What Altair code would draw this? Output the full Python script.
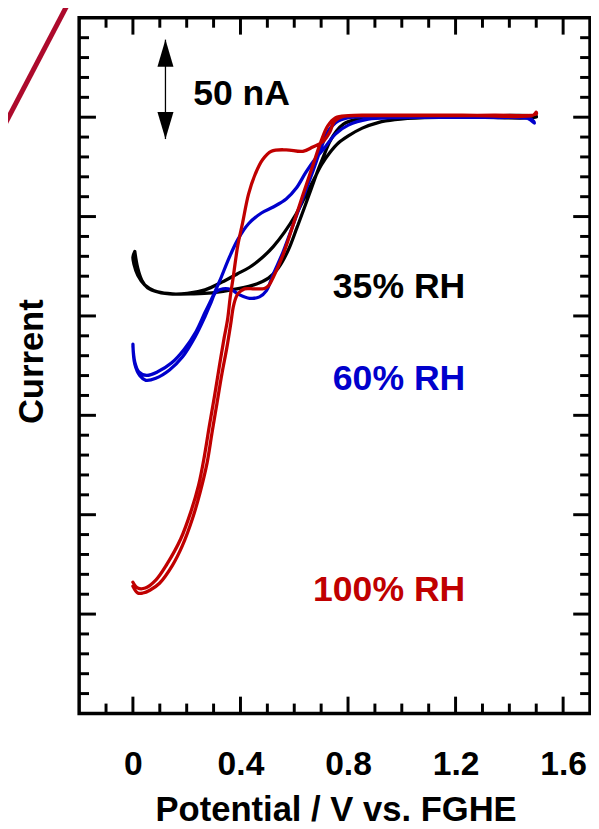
import altair as alt
import pandas as pd

# ---------------- data (Potential in V, Current in nA) ----------------
series_names = ["35% RH", "60% RH", "100% RH"]
series_colors = ["#000000", "#0000cc", "#c00000"]

black_v = [0.007, 0.018, 0.033, 0.055, 0.092, 0.147, 0.221, 0.294, 0.386, 0.46, 0.504, 0.54, 0.577,
           0.61, 0.64, 0.665, 0.688, 0.71, 0.732, 0.757, 0.783, 0.827, 0.901, 1.085, 1.268, 1.5,
           1.5, 1.268, 1.085, 0.974, 0.912, 0.853, 0.801, 0.765, 0.732, 0.702, 0.673, 0.643, 0.607,
           0.5625, 0.522, 0.478, 0.434, 0.386, 0.331, 0.268, 0.202, 0.136, 0.081, 0.044, 0.018,
           0.004, 0.0, 0.007]
black_i = [-67.6, -76.0, -82.0, -85.9, -87.9, -88.9, -88.9, -88.4, -86.4, -83.9, -81.0, -76.0, -67.1,
           -55.6, -44.7, -35.3, -26.8, -19.4, -12.4, -7.0, -3.5, -1.24, -0.25, 0.25, 0.5, 0.5,
           0.0, 0.0, -0.25, -1.24, -2.7, -5.5, -9.4, -12.9, -17.9, -23.8, -31.3, -39.2, -48.7,
           -58.1, -65.1, -71.0, -75.5, -79.0, -83.0, -86.9, -88.7, -88.9, -87.4, -84.4, -79.5,
           -74.0, -70.5, -67.6]

blue_v = [0.0, 0.007, 0.026, 0.048, 0.085, 0.136, 0.184, 0.232, 0.268, 0.29, 0.309, 0.335, 0.364,
          0.397, 0.434, 0.471, 0.496, 0.522, 0.559, 0.596, 0.632, 0.669, 0.699, 0.724, 0.754, 0.801,
          0.875, 1.268, 1.426, 1.471, 1.493,
          1.482, 1.342, 1.121, 0.963, 0.875, 0.801, 0.754, 0.71, 0.673, 0.643, 0.607, 0.57, 0.522,
          0.478, 0.43, 0.39, 0.357, 0.324, 0.298, 0.268, 0.235, 0.191, 0.143, 0.092, 0.051, 0.022,
          0.007, 0.0]
blue_i = [-114.2, -124.2, -130.1, -132.4, -131.4, -127.2, -120.7, -110.3, -100.3, -93.4, -87.9, -86.4,
          -86.7, -89.4, -91.1, -90.4, -87.4, -79.0, -67.6, -54.1, -40.7, -27.3, -15.9, -7.5, -2.7,
          -0.25, 0.25, 0.25, 0.0, -0.75, -3.0,
          -1.0, -0.15, -0.15, -0.25, -1.0, -4.0, -8.4, -15.9, -21.9, -27.8, -35.8, -41.2, -45.2,
          -48.2, -53.6, -61.6, -71.0, -82.0, -89.9, -98.3, -107.8, -116.7, -123.7, -128.1, -129.9,
          -128.1, -123.2, -115.2]

red_v = [0.0, 0.018, 0.037, 0.063, 0.099, 0.147, 0.184, 0.221, 0.25, 0.276, 0.294, 0.3125, 0.331,
         0.349, 0.364, 0.375, 0.39, 0.415, 0.452, 0.489, 0.504, 0.522, 0.559, 0.596, 0.632, 0.669,
         0.699, 0.724, 0.754, 0.801, 0.875, 1.158, 1.342, 1.5, 1.5,
         1.489, 1.268, 0.974, 0.853, 0.779, 0.75, 0.732, 0.706, 0.669, 0.632, 0.57, 0.515, 0.482,
         0.456, 0.43, 0.408, 0.39, 0.373, 0.362, 0.352, 0.339, 0.321, 0.303, 0.284, 0.266, 0.244,
         0.215, 0.178, 0.126, 0.085, 0.046, 0.018, 0.0]
red_i = [-236.0, -239.4, -239.4, -238.0, -234.5, -225.5, -215.6, -202.2, -188.7, -173.8, -158.9,
         -144.0, -129.1, -116.2, -103.8, -94.4, -88.9, -86.4, -86.4, -86.2, -84.9, -80.5, -69.0,
         -54.1, -39.2, -24.3, -12.4, -4.5, -0.25, 0.75, 1.0, 1.0, 1.0, 1.5, 2.5,
         1.0, 0.75, 0.75, 0.75, 0.25, -2.0, -7.5, -12.4, -15.0, -17.2, -16.4, -17.1, -21.4,
         -28.3, -38.7, -53.1, -64.6, -80.5, -90.4, -101.8, -111.3, -125.7, -140.6, -155.5, -170.4,
         -185.3, -198.7, -212.1, -225.0, -232.9, -236.9, -236.9, -234.0]

# axis ticks
x_major = [0.0, 0.4, 0.8, 1.2, 1.6]
x_minor = [-0.1, 0.1, 0.2, 0.3, 0.5, 0.6, 0.7, 0.9, 1.0, 1.1, 1.3, 1.4, 1.5]
y_major = [-250, -200, -150, -100, -50, 0]
y_minor = [-290, -280, -270, -260, -240, -230, -220, -210, -190, -180, -170, -160,
           -140, -130, -120, -110, -90, -80, -70, -60, -40, -30, -20, -10,
           10, 20, 30, 40]

# annotations
label_text = ["35% RH", "60% RH", "100% RH"]
label_v = [1.236, 1.236, 1.236]
label_i = [-91.2, -137.2, -243.4]
scale_text = ["50 nA"]
scale_v = [0.224]
scale_i = [6.0]
bar_v = [0.121]
bar_top = [39.0]
bar_bottom = [-11.0]

# ---------------- chart ----------------
W, H = 517, 704
FONT = "Liberation Sans"

rows = []
for name, vs, cs in [(series_names[0], black_v, black_i),
                     (series_names[1], blue_v, blue_i),
                     (series_names[2], red_v, red_i)]:
    for k, (v, c) in enumerate(zip(vs, cs)):
        rows.append({"series": name, "k": k, "V": v, "I": c})
curves = pd.DataFrame(rows)

xs = alt.Scale(domain=[-0.2, 1.7], nice=False, zero=False)
ys = alt.Scale(domain=[-300, 50], nice=False, zero=False)

axX = alt.Axis(values=x_major, format=".1~f", ticks=False, tickSize=0, domain=False, grid=False,
               labelFont=FONT, labelFontSize=34, labelFontWeight="bold", labelColor="black",
               labelBaseline="alphabetic", labelPadding=62, labelFlush=False, labelOverlap=False,
               title="Potential / V vs. FGHE", titleFont=FONT, titleFontSize=35,
               titleFontWeight="bold", titleColor="black", titleBaseline="alphabetic",
               titleAlign="center", titleX=259.5, titleY=108)
axY = alt.Axis(labels=False, ticks=False, tickSize=0, domain=False, grid=False,
               title="Current", titleFont=FONT, titleFontSize=35, titleFontWeight="bold",
               titleColor="black", titleAngle=270, titleBaseline="alphabetic",
               titleAlign="center", titleX=-37, titleY=347.5)

X = lambda f: alt.X(f, type="quantitative", scale=xs, axis=axX)
Y = lambda f: alt.Y(f, type="quantitative", scale=ys, axis=axY)

lines = alt.Chart(curves).mark_line(strokeWidth=3.3, interpolate="catmull-rom",
                                    strokeJoin="round", strokeCap="round").encode(
    x=X("V"), y=Y("I"),
    color=alt.Color("series:N", scale=alt.Scale(domain=series_names, range=series_colors), legend=None),
    order=alt.Order("k:Q"),
)

def tick_layer(vals, axis, side, length):
    df = pd.DataFrame({"t": vals})
    m = alt.Chart(df).mark_rule(strokeWidth=3, color="black")
    if axis == "x":
        if side == "bottom":
            return m.encode(x=X("t"), y=alt.value(H), y2=alt.value(H - length))
        return m.encode(x=X("t"), y=alt.value(0), y2=alt.value(length))
    if side == "left":
        return m.encode(y=Y("t"), x=alt.value(0), x2=alt.value(length))
    return m.encode(y=Y("t"), x=alt.value(W - length), x2=alt.value(W))

ticks = [
    tick_layer(x_major, "x", "bottom", 17), tick_layer(x_minor, "x", "bottom", 10),
    tick_layer(x_major, "x", "top", 17), tick_layer(x_minor, "x", "top", 10),
    tick_layer(y_major, "y", "left", 17), tick_layer(y_minor, "y", "left", 10),
    tick_layer(y_major, "y", "right", 17), tick_layer(y_minor, "y", "right", 10),
]

labels_df = pd.DataFrame({"txt": label_text, "V": label_v, "I": label_i, "c": series_colors})
labels = alt.Chart(labels_df).mark_text(font=FONT, fontSize=36, fontWeight="bold",
                                        align="right", baseline="alphabetic").encode(
    x=X("V"), y=Y("I"), text="txt:N", color=alt.Color("c:N", scale=None))

scale_df = pd.DataFrame({"txt": scale_text, "V": scale_v, "I": scale_i})
scale_lbl = alt.Chart(scale_df).mark_text(font=FONT, fontSize=36, fontWeight="bold",
                                          align="left", baseline="alphabetic", color="black").encode(
    x=X("V"), y=Y("I"), text="txt:N")

bar_df = pd.DataFrame({"V": bar_v, "top": bar_top, "bottom": bar_bottom})
bar = alt.Chart(bar_df).mark_rule(strokeWidth=1.3, color="black").encode(
    x=X("V"), y=Y("top"), y2="bottom")
head_up = alt.Chart(bar_df).transform_calculate(c="datum.top - 6.8").mark_point(
    shape="M0,-1L0.59,1L-0.59,1Z", size=756, filled=True, color="black", opacity=1,
    strokeWidth=0).encode(x=X("V"), y=Y("c:Q"))
head_down = alt.Chart(bar_df).transform_calculate(c="datum.bottom + 6.8").mark_point(
    shape="M0,1L0.59,-1L-0.59,-1Z", size=756, filled=True, color="black", opacity=1,
    strokeWidth=0).encode(x=X("V"), y=Y("c:Q"))

stray = alt.Chart(pd.DataFrame({"a": [0]})).mark_rule(color="#ad0a2c", strokeWidth=5).encode(
    x=alt.value(-80), x2=alt.value(-12), y=alt.value(117), y2=alt.value(-13))

chart = alt.layer(*ticks, lines, labels, scale_lbl, bar, head_up, head_down, stray).properties(
    width=W, height=H,
    autosize=alt.AutoSizeParams(type="none"),
    padding={"left": 72, "top": 5, "right": 1, "bottom": 112},
).configure(
    background="white",
    view=alt.ViewConfig(stroke="black", strokeWidth=3.5),
)

chart.save("out.html", embed_options={"renderer": "svg", "actions": False})
